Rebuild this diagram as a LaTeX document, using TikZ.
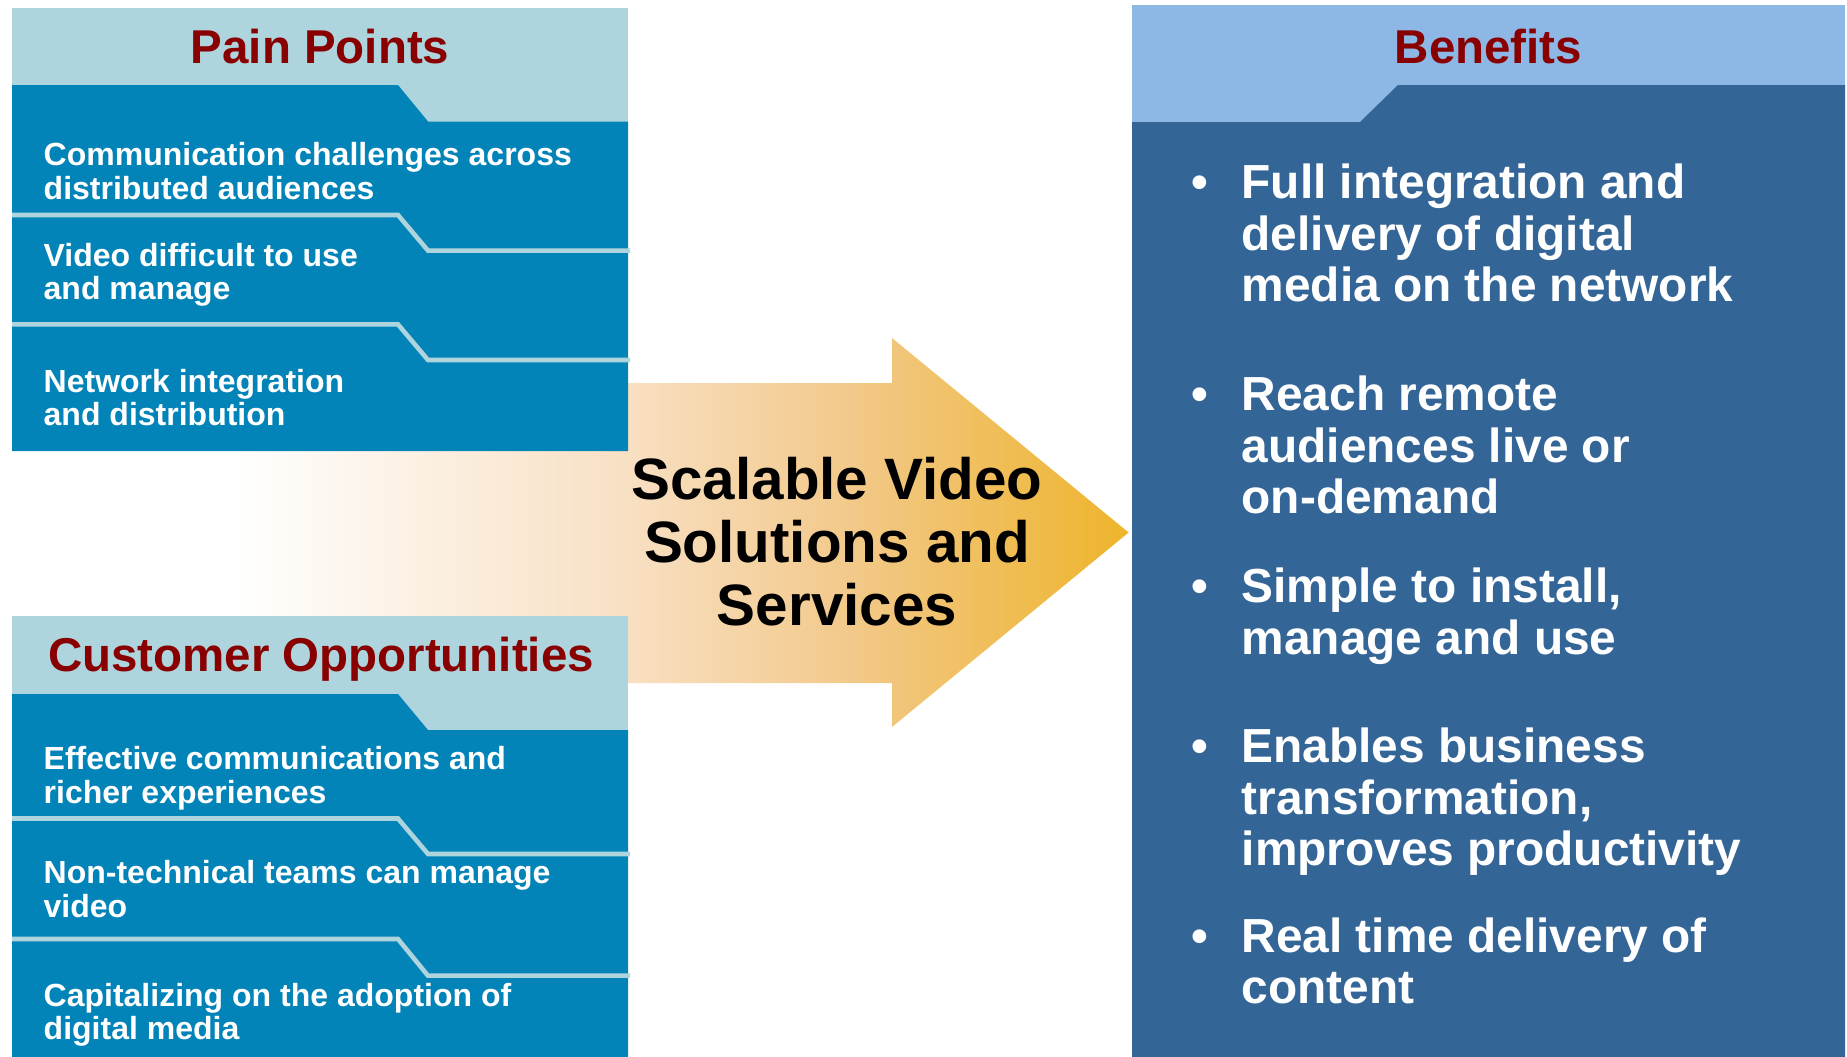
\documentclass[tikz,border=0pt]{standalone}
\usepackage{fontspec}
\setmainfont{Liberation Sans}
\usepackage{tikz}
\definecolor{dotuoi}{rgb}{0.533,0.,0.}
\pgfdeclarehorizontalshading{muiten}{100bp}{rgb(0bp)=(1,1,1); rgb(25bp)=(1,1,1); rgb(35bp)=(1,1,1); rgb(52.5bp)=(0.973,0.878,0.765); rgb(62.5bp)=(0.949,0.788,0.541); rgb(75bp)=(0.933,0.706,0.169); rgb(100bp)=(0.933,0.706,0.169)}

\begin{document}
\begin{tikzpicture}[x=0.01cm,y=-0.01cm,
	tieude/.style={font=\fontsize{13.5}{14}\selectfont\bfseries,text=dotuoi,inner sep=0pt,anchor=base},
	mucnho/.style={font=\fontsize{9.1}{9.4}\selectfont\bfseries,text=white,align=left,inner sep=0pt,anchor=base west},
	muclon/.style={font=\fontsize{13.6}{14.7}\selectfont\bfseries,text=white,align=left,inner sep=0pt,anchor=base west},
	cham/.style={font=\fontsize{13.6}{14.7}\selectfont\bfseries,text=white,inner sep=0pt,anchor=base}]
			\definecolor{aedtdd}{rgb}{0.682,0.831,0.867}
			\definecolor{qrotbp}{rgb}{0.012,0.518,0.725}
			\definecolor{odboeu}{rgb}{0.553,0.722,0.902}
			\definecolor{rtuzpi}{rgb}{0.204,0.396,0.592}
				\useasboundingbox (0,0) rectangle (1847,1057);
				\shade[shading=muiten] (12,383) -- (892,383) -- (892,338) -- (1128.6,532.5) -- (892,727) -- (892,683) -- (12,683) -- cycle;
				\fill[color=aedtdd] (12,8) rectangle (628,451);
				\fill[color=qrotbp] (12,85) -- (398,85) -- (428,121.5) -- (628,121.5) -- (628,451) -- (12,451) -- cycle;
				\draw [line width=1.3pt,color=aedtdd] (12,215) -- (398,215) -- (428,250.6) -- (630,250.6);
				\draw [line width=1.3pt,color=aedtdd] (12,324.4) -- (398,324.4) -- (428,360) -- (630,360);
				\fill[color=aedtdd] (12,615.5) rectangle (628,1057);
				\fill[color=qrotbp] (12,694) -- (398,694) -- (428,730) -- (628,730) -- (628,1057) -- (12,1057) -- cycle;
				\draw [line width=1.3pt,color=aedtdd] (12,818.5) -- (398,818.5) -- (428,854) -- (630,854);
				\draw [line width=1.3pt,color=aedtdd] (12,939) -- (398,939) -- (428,975.7) -- (630,975.7);
				\fill[color=odboeu] (1132,5) rectangle (1845,1057);
				\fill[color=rtuzpi] (1132,122) -- (1360,122) -- (1398,85) -- (1845,85) -- (1845,1057) -- (1132,1057) -- cycle;
			
				\node[tieude] (dau) at (320,63.5) {Pain Points};
				\node[tieude] (coho) at (321,671) {Customer Opportunities};
				\node[tieude] (loiich) at (1488.5,63.3) {Benefits};
				\node[mucnho] (dau1) at (43,199) {Communication challenges across\\distributed audiences};
				\node[mucnho] (dau2) at (43,299.5) {Video difficult to use\\and manage};
				\node[mucnho] (dau3) at (43,425.5) {Network integration\\and distribution};
				\node[mucnho] (coho1) at (43,803) {Effective communications and\\richer experiences};
				\node[mucnho] (coho2) at (43,917) {Non-technical teams can manage\\video};
				\node[mucnho] (coho3) at (43,1039.5) {Capitalizing on the adoption of\\digital media};
				\node[font=\fontsize{16.6}{17.9}\selectfont\bfseries,align=center,inner sep=0pt] (giaiphap) at (837,541.6) {Scalable Video\\Solutions and\\Services};
				\node[muclon] (loiich1) at (1241,301.7) {Full integration and\\delivery of digital\\media on the network};
				\node[muclon] (loiich2) at (1241,513.7) {Reach remote\\audiences live or\\on-demand};
				\node[muclon] (loiich3) at (1241,654.1) {Simple to install,\\manage and use};
				\node[muclon] (loiich4) at (1241,865.9) {Enables business\\transformation,\\improves productivity};
				\node[muclon] (loiich5) at (1241,1003.7) {Real time delivery of\\content};
				\node[cham] (cham1) at (1200,198.4) {\textbullet};
				\node[cham] (cham2) at (1200,410.4) {\textbullet};
				\node[cham] (cham3) at (1200,602.4) {\textbullet};
				\node[cham] (cham4) at (1200,762.6) {\textbullet};
				\node[cham] (cham5) at (1200,952) {\textbullet};
		\end{tikzpicture}
\end{document}
